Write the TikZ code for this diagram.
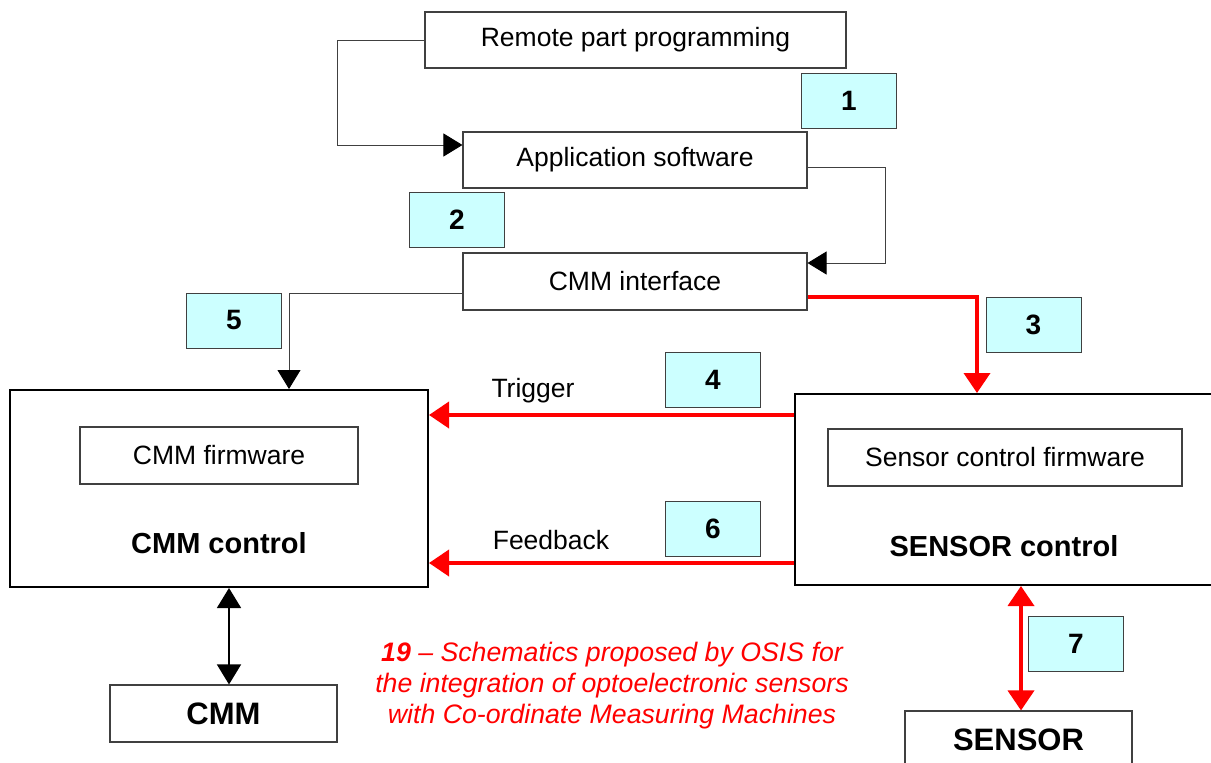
\documentclass[tikz,border=0pt]{standalone}
\usepackage{fontspec}
\setmainfont{Liberation Sans}
\usetikzlibrary{arrows.meta}
\definecolor{numcyan}{HTML}{CCFFFF}
\definecolor{boxgray}{HTML}{404040}
\begin{document}
\begin{tikzpicture}[x=1pt,y=-1pt,
  box/.style={draw=boxgray, line width=1.1pt, fill=white, inner sep=0pt,
    font=\fontsize{26.5}{30}\selectfont},
  bigbox/.style={draw=black, line width=2pt, inner sep=0pt},
  numbox/.style={draw=boxgray, line width=1pt, fill=numcyan, minimum width=95pt,
    minimum height=55pt, inner sep=0pt, font=\fontsize{28}{30}\selectfont\bfseries},
  thinconn/.style={draw=boxgray, line width=0.9pt, -{Triangle[length=19pt,width=23pt,color=black,fill=black]}},
  redconn/.style={draw=red, line width=3.8pt, -{Triangle[length=20pt,width=26pt]}},
  reddbl/.style={draw=red, line width=3.8pt, {Triangle[length=20pt,width=26pt]}-{Triangle[length=20pt,width=26pt]}},
  blackdbl/.style={draw=black, line width=1.5pt, {Triangle[length=20pt,width=24pt]}-{Triangle[length=20pt,width=24pt]}},
  lbl/.style={inner sep=0pt, font=\fontsize{26.5}{30}\selectfont},
  ctllbl/.style={inner sep=0pt, font=\fontsize{29}{32}\selectfont\bfseries}
]
\useasboundingbox (0,0) rectangle (1211,763);
\fill[white] (0,0) rectangle (1211,763);

% top boxes
\node[box, minimum width=421pt, minimum height=56pt] (rpp) at (635.5,40) {Remote part programming};
\node[box, minimum width=344pt, minimum height=56pt] (app) at (635,160) {Application software};
\node[box, minimum width=344pt, minimum height=57pt] (cmmi) at (635,281.5) {CMM interface};

% control boxes
\node[bigbox, minimum width=418pt, minimum height=197pt] (cmmctl) at (219,488.5) {};
\node[box, minimum width=278pt, minimum height=57pt] (cmmfw) at (219,455.5) {CMM firmware};
\node[ctllbl] (cmmctllbl) at (219,543) {CMM control};

\node[bigbox, minimum width=420pt, minimum height=191pt] (senctl) at (1005,489.5) {};
\node[box, minimum width=354pt, minimum height=57pt] (senfw) at (1005,457.5) {Sensor control firmware};
\node[ctllbl] (senctllbl) at (1004,546) {SENSOR control};

% bottom boxes
\node[box, minimum width=227pt, minimum height=57pt, font=\fontsize{31}{34}\selectfont\bfseries] (cmm) at (223.5,713.5) {CMM};
\node[box, minimum width=227pt, minimum height=57pt, font=\fontsize{31}{34}\selectfont\bfseries] (sensor) at (1018.5,739.5) {SENSOR};

% number boxes
\node[numbox] (n1) at (849,101) {1};
\node[numbox] (n2) at (457,220) {2};
\node[numbox] (n3) at (1033.5,324.5) {3};
\node[numbox] (n4) at (713,379.5) {4};
\node[numbox] (n5) at (234,320.5) {5};
\node[numbox] (n6) at (713,529) {6};
\node[numbox] (n7) at (1076,644) {7};

% connectors
\draw[thinconn] (rpp.west) -- ++(-87,0) |- ([yshift=15pt]app.west);
\draw[thinconn] ([yshift=-7pt]app.east) -- ++(78,0) |- ([yshift=18.5pt]cmmi.east);
\draw[thinconn] ([yshift=-11.5pt]cmmi.west) -| ([xshift=70pt]cmmctl.north);
\draw[redconn] ([yshift=-15.5pt]cmmi.east) -| ([xshift=-28pt]senctl.north);
\draw[redconn] ([yshift=74.5pt]senctl.west) -- ([yshift=73.5pt]cmmctl.east);
\draw[redconn] ([yshift=-73.5pt]senctl.west) -- ([yshift=-74.5pt]cmmctl.east);
\draw[blackdbl] ([xshift=10pt]cmmctl.south) -- ([xshift=5.5pt]cmm.north);
\draw[reddbl] ([xshift=16pt]senctl.south) -- ([xshift=2.5pt]sensor.north);

% labels
\node[lbl] (trig) at (533,391) {Trigger};
\node[lbl] (fb) at (551,540) {Feedback};

% caption
\node[inner sep=0pt, align=center, text=red, font=\fontsize{26.7}{31}\selectfont\itshape] (cap) at (612,686)
  {\textbf{19} -- Schematics proposed by OSIS for\\the integration of optoelectronic sensors\\with Co-ordinate Measuring Machines};
\end{tikzpicture}
\end{document}
